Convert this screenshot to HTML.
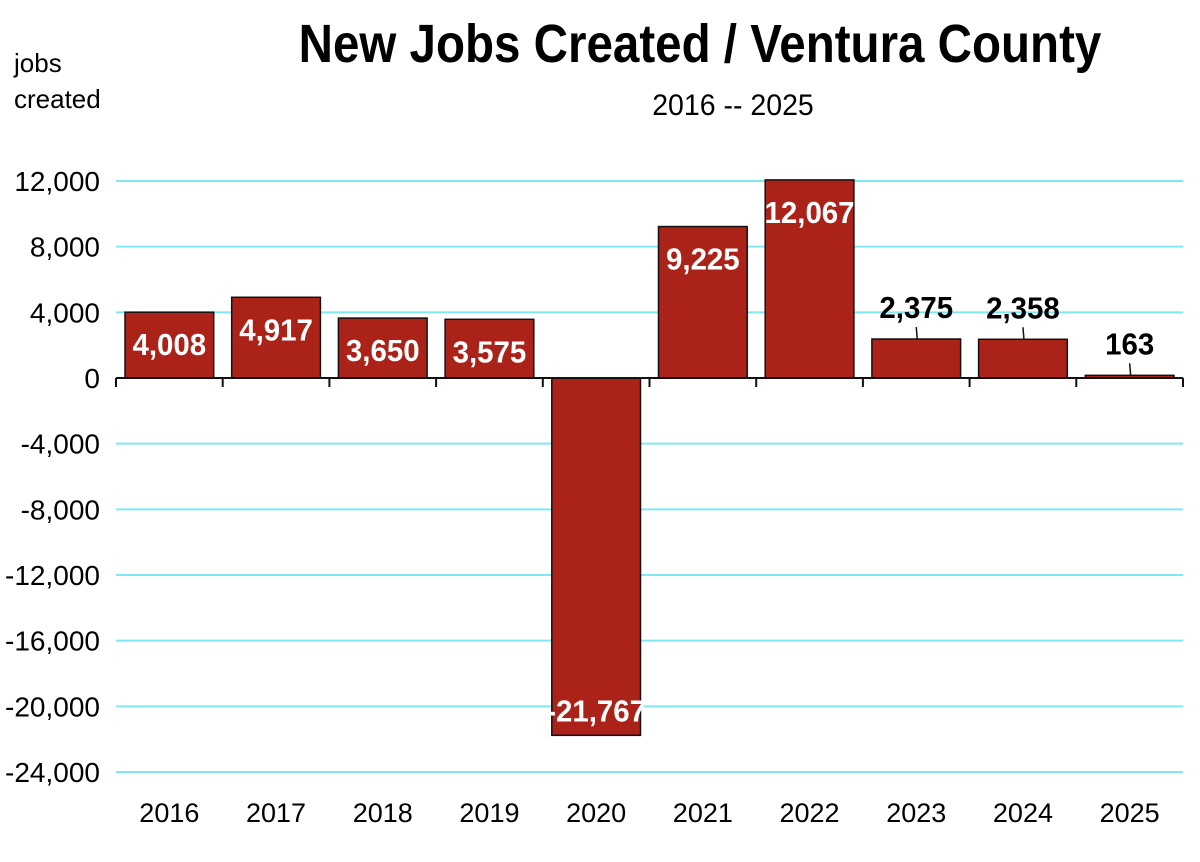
<!DOCTYPE html>
<html><head><meta charset="utf-8"><style>
body{margin:0;background:#fff;width:1200px;height:857px;overflow:hidden;font-family:"Liberation Sans",sans-serif}
</style></head><body>
<svg id="c" width="1200" height="857">
<text x="700" y="62" text-anchor="middle" font-size="54" font-weight="bold" transform="translate(700,0) scale(0.88,1) translate(-700,0)">New Jobs Created / Ventura County</text>
<text x="733" y="115" text-anchor="middle" font-size="30" transform="translate(733,0) scale(0.95,1) translate(-733,0)">2016 -- 2025</text>
<text x="14" y="72" font-size="26">jobs</text>
<text x="14" y="108" font-size="26">created</text>
</svg>
<script>
const categories=["2016","2017","2018","2019","2020","2021","2022","2023","2024","2025"];
const values=[4008,4917,3650,3575,-21767,9225,12067,2375,2358,163];
const labels=["4,008","4,917","3,650","3,575","-21,767","9,225","12,067","2,375","2,358","163"];
const yTicks=[12000,8000,4000,0,-4000,-8000,-12000,-16000,-20000,-24000];
const yTickLabels=["12,000","8,000","4,000","0","-4,000","-8,000","-12,000","-16,000","-20,000","-24,000"];
const NS="http://www.w3.org/2000/svg",svg=document.getElementById('c');
const x0=116,x1=1183,cw=(x1-x0)/categories.length;
const y=v=>378-v*(197/12000);
function mk(t,a,p){const e=document.createElementNS(NS,t);for(const k in a)e.setAttribute(k,a[k]);(p||svg).appendChild(e);return e;}
yTicks.forEach((v,i)=>{
 if(v!==0){const g=mk('line',{x1:x0,x2:x1,y1:y(v),y2:y(v),stroke:'#80e8f2','stroke-width':2});
 
 }
 const t=mk('text',{x:100,y:y(v)+10,'text-anchor':'end','font-size':28});
 t.textContent=yTickLabels[i];
 
 
});
categories.forEach((c,i)=>{
 const v=values[i],bx=x0+i*cw+9,bw=cw-18,cx=x0+(i+0.5)*cw;
 const top=Math.min(y(v),y(0)),h=Math.max(Math.abs(y(v)-y(0)),1.5);
 const r=mk('rect',{x:bx,y:top,width:bw,height:h,fill:'#ab2318',stroke:'#111','stroke-width':1.5});
 
 
 const inside=Math.abs(y(v)-y(0))>50;
 let ly;
 if(inside){ly=v>0?top+43:y(v)-14;}
 else{ly=top-21;mk('line',{x1:cx,x2:cx+1,y1:ly+9,y2:top,stroke:'#111','stroke-width':1.5});}
 const t=mk('text',{x:cx,y:ly,'text-anchor':'middle','font-size':31,'font-weight':'bold',fill:inside?'#fff':'#000',transform:`translate(${cx},0) scale(0.95,1) translate(${-cx},0)`});
 t.textContent=labels[i];
 
 
 const xl=mk('text',{x:cx,y:822,'text-anchor':'middle','font-size':27});
 xl.textContent=c;
 
 
});
const ax=mk('line',{x1:x0,x2:x1,y1:y(0),y2:y(0),stroke:'#111','stroke-width':2});


for(let i=0;i<=categories.length;i++){const xx=x0+i*cw;mk('line',{x1:xx,x2:xx,y1:y(0),y2:y(0)+9,stroke:'#111','stroke-width':2});}
</script>
</body></html>
